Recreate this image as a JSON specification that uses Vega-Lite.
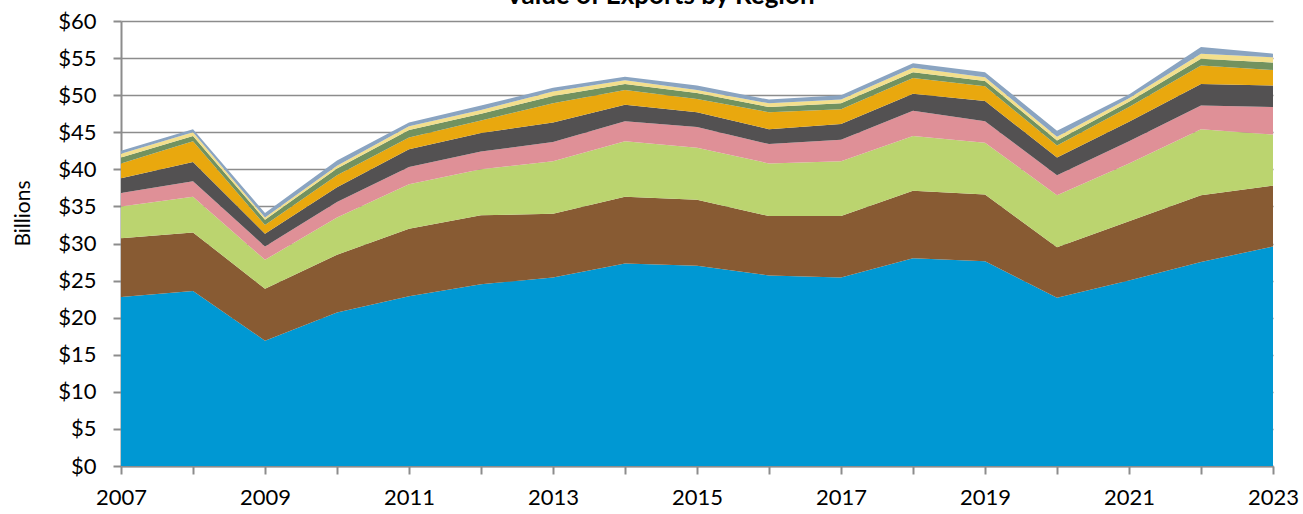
{
  "$schema": "https://vega.github.io/schema/vega-lite/v6.json",
  "width": 1152,
  "height": 445,
  "autosize": {"type": "none"},
  "padding": {"left": 121, "top": 21, "right": 30, "bottom": 48},
  "background": "white",
  "title": {"text": "Value of Exports by Region", "fontSize": 26, "font": "Lato", "fontWeight": "bold", "anchor": "middle", "dx": -37, "offset": 1, "color": "#000000"},
  "datasets": {
    "exports": [
      {"year": 2007, "region": "Asia", "value": 22.8}, {"year": 2007, "region": "Canada", "value": 7.9}, {"year": 2007, "region": "Europe", "value": 4.3}, {"year": 2007, "region": "Latin America", "value": 1.8}, {"year": 2007, "region": "Mexico", "value": 2.0}, {"year": 2007, "region": "Middle East", "value": 2.0}, {"year": 2007, "region": "Oceania", "value": 0.8}, {"year": 2007, "region": "Other", "value": 0.5}, {"year": 2007, "region": "Unallocated", "value": 0.4},
      {"year": 2008, "region": "Asia", "value": 23.6}, {"year": 2008, "region": "Canada", "value": 7.9}, {"year": 2008, "region": "Europe", "value": 4.8}, {"year": 2008, "region": "Latin America", "value": 2.1}, {"year": 2008, "region": "Mexico", "value": 2.6}, {"year": 2008, "region": "Middle East", "value": 2.8}, {"year": 2008, "region": "Oceania", "value": 0.7}, {"year": 2008, "region": "Other", "value": 0.5}, {"year": 2008, "region": "Unallocated", "value": 0.4},
      {"year": 2009, "region": "Asia", "value": 16.9}, {"year": 2009, "region": "Canada", "value": 7.0}, {"year": 2009, "region": "Europe", "value": 3.9}, {"year": 2009, "region": "Latin America", "value": 1.8}, {"year": 2009, "region": "Mexico", "value": 1.7}, {"year": 2009, "region": "Middle East", "value": 1.2}, {"year": 2009, "region": "Oceania", "value": 0.7}, {"year": 2009, "region": "Other", "value": 0.3}, {"year": 2009, "region": "Unallocated", "value": 0.6},
      {"year": 2010, "region": "Asia", "value": 20.7}, {"year": 2010, "region": "Canada", "value": 7.8}, {"year": 2010, "region": "Europe", "value": 5.0}, {"year": 2010, "region": "Latin America", "value": 2.1}, {"year": 2010, "region": "Mexico", "value": 2.0}, {"year": 2010, "region": "Middle East", "value": 1.6}, {"year": 2010, "region": "Oceania", "value": 0.9}, {"year": 2010, "region": "Other", "value": 0.4}, {"year": 2010, "region": "Unallocated", "value": 0.7},
      {"year": 2011, "region": "Asia", "value": 22.9}, {"year": 2011, "region": "Canada", "value": 9.1}, {"year": 2011, "region": "Europe", "value": 6.0}, {"year": 2011, "region": "Latin America", "value": 2.3}, {"year": 2011, "region": "Mexico", "value": 2.4}, {"year": 2011, "region": "Middle East", "value": 1.6}, {"year": 2011, "region": "Oceania", "value": 1.0}, {"year": 2011, "region": "Other", "value": 0.5}, {"year": 2011, "region": "Unallocated", "value": 0.5},
      {"year": 2012, "region": "Asia", "value": 24.5}, {"year": 2012, "region": "Canada", "value": 9.3}, {"year": 2012, "region": "Europe", "value": 6.2}, {"year": 2012, "region": "Latin America", "value": 2.4}, {"year": 2012, "region": "Mexico", "value": 2.5}, {"year": 2012, "region": "Middle East", "value": 1.7}, {"year": 2012, "region": "Oceania", "value": 0.9}, {"year": 2012, "region": "Other", "value": 0.5}, {"year": 2012, "region": "Unallocated", "value": 0.6},
      {"year": 2013, "region": "Asia", "value": 25.4}, {"year": 2013, "region": "Canada", "value": 8.6}, {"year": 2013, "region": "Europe", "value": 7.1}, {"year": 2013, "region": "Latin America", "value": 2.6}, {"year": 2013, "region": "Mexico", "value": 2.6}, {"year": 2013, "region": "Middle East", "value": 2.6}, {"year": 2013, "region": "Oceania", "value": 1.0}, {"year": 2013, "region": "Other", "value": 0.6}, {"year": 2013, "region": "Unallocated", "value": 0.5},
      {"year": 2014, "region": "Asia", "value": 27.3}, {"year": 2014, "region": "Canada", "value": 9.0}, {"year": 2014, "region": "Europe", "value": 7.5}, {"year": 2014, "region": "Latin America", "value": 2.7}, {"year": 2014, "region": "Mexico", "value": 2.2}, {"year": 2014, "region": "Middle East", "value": 2.0}, {"year": 2014, "region": "Oceania", "value": 0.8}, {"year": 2014, "region": "Other", "value": 0.5}, {"year": 2014, "region": "Unallocated", "value": 0.5},
      {"year": 2015, "region": "Asia", "value": 27.0}, {"year": 2015, "region": "Canada", "value": 8.9}, {"year": 2015, "region": "Europe", "value": 7.0}, {"year": 2015, "region": "Latin America", "value": 2.8}, {"year": 2015, "region": "Mexico", "value": 2.0}, {"year": 2015, "region": "Middle East", "value": 1.8}, {"year": 2015, "region": "Oceania", "value": 0.8}, {"year": 2015, "region": "Other", "value": 0.4}, {"year": 2015, "region": "Unallocated", "value": 0.6},
      {"year": 2016, "region": "Asia", "value": 25.7}, {"year": 2016, "region": "Canada", "value": 8.0}, {"year": 2016, "region": "Europe", "value": 7.1}, {"year": 2016, "region": "Latin America", "value": 2.6}, {"year": 2016, "region": "Mexico", "value": 2.0}, {"year": 2016, "region": "Middle East", "value": 2.3}, {"year": 2016, "region": "Oceania", "value": 0.7}, {"year": 2016, "region": "Other", "value": 0.5}, {"year": 2016, "region": "Unallocated", "value": 0.5},
      {"year": 2017, "region": "Asia", "value": 25.4}, {"year": 2017, "region": "Canada", "value": 8.3}, {"year": 2017, "region": "Europe", "value": 7.4}, {"year": 2017, "region": "Latin America", "value": 2.9}, {"year": 2017, "region": "Mexico", "value": 2.1}, {"year": 2017, "region": "Middle East", "value": 2.0}, {"year": 2017, "region": "Oceania", "value": 0.8}, {"year": 2017, "region": "Other", "value": 0.5}, {"year": 2017, "region": "Unallocated", "value": 0.6},
      {"year": 2018, "region": "Asia", "value": 28.0}, {"year": 2018, "region": "Canada", "value": 9.1}, {"year": 2018, "region": "Europe", "value": 7.4}, {"year": 2018, "region": "Latin America", "value": 3.4}, {"year": 2018, "region": "Mexico", "value": 2.3}, {"year": 2018, "region": "Middle East", "value": 2.1}, {"year": 2018, "region": "Oceania", "value": 0.8}, {"year": 2018, "region": "Other", "value": 0.6}, {"year": 2018, "region": "Unallocated", "value": 0.6},
      {"year": 2019, "region": "Asia", "value": 27.6}, {"year": 2019, "region": "Canada", "value": 9.0}, {"year": 2019, "region": "Europe", "value": 7.0}, {"year": 2019, "region": "Latin America", "value": 2.9}, {"year": 2019, "region": "Mexico", "value": 2.7}, {"year": 2019, "region": "Middle East", "value": 2.0}, {"year": 2019, "region": "Oceania", "value": 0.7}, {"year": 2019, "region": "Other", "value": 0.5}, {"year": 2019, "region": "Unallocated", "value": 0.7},
      {"year": 2020, "region": "Asia", "value": 22.7}, {"year": 2020, "region": "Canada", "value": 6.8}, {"year": 2020, "region": "Europe", "value": 7.0}, {"year": 2020, "region": "Latin America", "value": 2.7}, {"year": 2020, "region": "Mexico", "value": 2.4}, {"year": 2020, "region": "Middle East", "value": 1.6}, {"year": 2020, "region": "Oceania", "value": 0.7}, {"year": 2020, "region": "Other", "value": 0.5}, {"year": 2020, "region": "Unallocated", "value": 0.8},
      {"year": 2021, "region": "Asia", "value": 25.0}, {"year": 2021, "region": "Canada", "value": 8.0}, {"year": 2021, "region": "Europe", "value": 7.8}, {"year": 2021, "region": "Latin America", "value": 3.0}, {"year": 2021, "region": "Mexico", "value": 2.6}, {"year": 2021, "region": "Middle East", "value": 2.0}, {"year": 2021, "region": "Oceania", "value": 0.7}, {"year": 2021, "region": "Other", "value": 0.5}, {"year": 2021, "region": "Unallocated", "value": 0.5},
      {"year": 2022, "region": "Asia", "value": 27.5}, {"year": 2022, "region": "Canada", "value": 9.0}, {"year": 2022, "region": "Europe", "value": 8.9}, {"year": 2022, "region": "Latin America", "value": 3.2}, {"year": 2022, "region": "Mexico", "value": 2.9}, {"year": 2022, "region": "Middle East", "value": 2.5}, {"year": 2022, "region": "Oceania", "value": 0.9}, {"year": 2022, "region": "Other", "value": 0.7}, {"year": 2022, "region": "Unallocated", "value": 0.9},
      {"year": 2023, "region": "Asia", "value": 29.6}, {"year": 2023, "region": "Canada", "value": 8.2}, {"year": 2023, "region": "Europe", "value": 6.9}, {"year": 2023, "region": "Latin America", "value": 3.7}, {"year": 2023, "region": "Mexico", "value": 2.9}, {"year": 2023, "region": "Middle East", "value": 2.1}, {"year": 2023, "region": "Oceania", "value": 1.0}, {"year": 2023, "region": "Other", "value": 0.7}, {"year": 2023, "region": "Unallocated", "value": 0.5}
    ]
  },
  "data": {"name": "exports"},
  "mark": {"type": "area", "interpolate": "linear"},
  "encoding": {
    "x": {
      "field": "year", "type": "quantitative",
      "scale": {"domain": [2007, 2023], "nice": false, "zero": false},
      "axis": {
        "title": null,
        "values": [2007, 2008, 2009, 2010, 2011, 2012, 2013, 2014, 2015, 2016, 2017, 2018, 2019, 2020, 2021, 2022, 2023],
        "labelExpr": "datum.value % 2 == 1 ? datum.label : ''",
        "format": "d",
        "grid": false,
        "domainColor": "#8c8c8c", "domainWidth": 2,
        "tickColor": "#8c8c8c", "tickWidth": 2, "tickSize": 8,
        "labelFont": "Lato", "labelFontSize": 22, "labelColor": "#000000", "labelPadding": 13,
        "labelOverlap": false, "labelFlush": false
      }
    },
    "y": {
      "field": "value", "type": "quantitative", "stack": "zero",
      "scale": {"domain": [0, 60], "nice": false},
      "axis": {
        "title": "Billions",
        "titleFont": "Lato", "titleFontSize": 21, "titleFontWeight": "normal", "titleColor": "#000000",
        "titleAngle": -90, "titleX": -92, "titleY": 192, "titleAlign": "center", "titleBaseline": "alphabetic",
        "values": [0, 5, 10, 15, 20, 25, 30, 35, 40, 45, 50, 55, 60],
        "labelExpr": "'$' + datum.value",
        "grid": true, "gridColor": "#8c8c8c", "gridWidth": 1.5,
        "domainColor": "#8c8c8c", "domainWidth": 2,
        "tickColor": "#8c8c8c", "tickWidth": 2, "tickSize": 8,
        "labelFont": "Lato", "labelFontSize": 22, "labelColor": "#000000", "labelPadding": 17, "labelAlign": "right"
      }
    },
    "order": {"field": "region", "type": "ordinal", "sort": "ascending"},
    "color": {
      "field": "region", "type": "nominal",
      "scale": {
        "domain": ["Asia", "Canada", "Europe", "Latin America", "Mexico", "Middle East", "Oceania", "Other", "Unallocated"],
        "range": ["#0098d3", "#885b33", "#bbd46f", "#df9097", "#535152", "#e9a80e", "#72925f", "#f3df8c", "#8aa4c1"]
      },
      "legend": null
    }
  },
  "config": {"view": {"stroke": null}, "font": "Lato"}
}
